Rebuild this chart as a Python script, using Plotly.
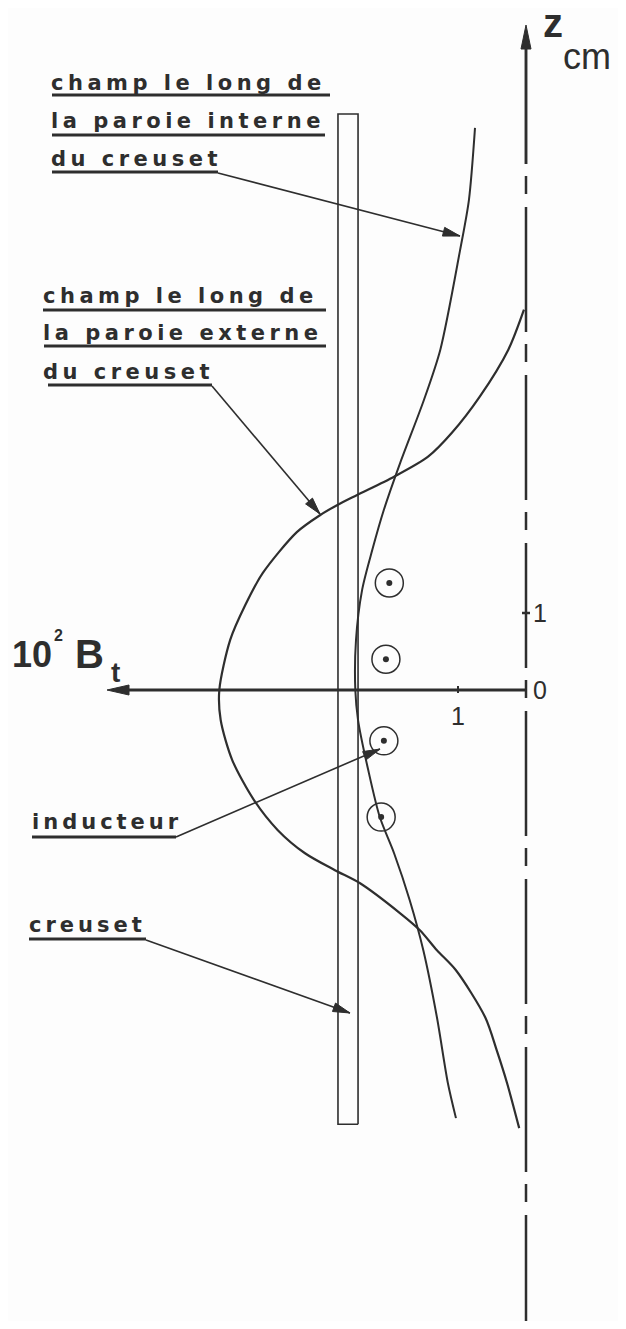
import plotly.graph_objects as go

# field along the inner wall of the crucible (10^2 Bt, z in cm)
z_inner = [7.30, 6.36, 5.71, 4.42, 3.77, 2.95, 2.34, 1.82, 1.30, 0.65, 0.0,
           -0.39, -1.04, -1.65, -2.12, -2.73, -3.38, -4.25, -5.10, -5.56]
b_inner = [0.75, 0.84, 0.97, 1.26, 1.50, 1.85, 2.09, 2.26, 2.41, 2.50, 2.51,
           2.47, 2.32, 2.15, 1.94, 1.71, 1.51, 1.31, 1.15, 1.03]

# field along the outer wall of the crucible
z_outer = [4.94, 4.42, 3.81, 3.34, 3.03, 2.77, 2.53, 2.40, 2.27, 2.05, 1.52, 1.10, 0.65, 0.0,
           -0.39, -0.91, -1.43, -1.82, -2.12, -2.34, -2.51, -2.90, -3.12, -3.38,
           -3.64, -4.25, -4.68, -5.10, -5.69]
b_outer = [0.03, 0.26, 0.68, 1.09, 1.44, 1.94, 2.49, 2.78, 3.03, 3.37, 3.87, 4.13, 4.35, 4.51,
           4.49, 4.32, 4.00, 3.65, 3.25, 2.81, 2.44, 1.85, 1.56, 1.31,
           1.03, 0.60, 0.43, 0.28, 0.10]

# inductor turns
coil_b = [2.01, 2.06, 2.09, 2.13]
coil_z = [1.39, 0.40, -0.66, -1.65]

# crucible wall
crucible_b = [2.47, 2.765]
crucible_z = [-5.64, 7.48]

x_ticks = [1]
x_tick_labels = ["1"]
z_ticks = [1]
z_tick_labels = ["1"]

PAGE_W, PAGE_H = 626, 1329
PAD = 8                 # body margin of the html page
OX, OY = 526, 690       # origin in page pixels
SX, SY = 68, 77         # pixels per unit
INK = "#2e2e2e"


def bx(px):
    return (OX - px) / SX


def zy(py):
    return (OY - py) / SY


def arrow_path(tip, tail, length=16, half=4):
    # filled triangle in data coords, given pixel tip/tail
    tx, ty = tip
    dx, dy = tip[0] - tail[0], tip[1] - tail[1]
    n = (dx * dx + dy * dy) ** 0.5
    ux, uy = dx / n, dy / n
    bxp, byp = tx - ux * length, ty - uy * length
    p1 = (bxp - uy * half, byp + ux * half)
    p2 = (bxp + uy * half, byp - ux * half)
    pts = [(tx, ty), p1, p2]
    return "M " + " L ".join(f"{bx(a)},{zy(b)}" for a, b in pts) + " Z"


fig = go.Figure()

fig.add_trace(go.Scatter(x=b_inner, y=z_inner, mode="lines",
                         line=dict(color=INK, width=2, shape="spline", smoothing=0.8)))
fig.add_trace(go.Scatter(x=b_outer, y=z_outer, mode="lines",
                         line=dict(color=INK, width=2.2, shape="spline", smoothing=0.8)))

# crucible
fig.add_trace(go.Scatter(
    x=[crucible_b[0], crucible_b[0], crucible_b[1], crucible_b[1], crucible_b[0]],
    y=[crucible_z[0], crucible_z[1], crucible_z[1], crucible_z[0], crucible_z[0]],
    mode="lines", line=dict(color=INK, width=1.6)))

# inductor
fig.add_trace(go.Scatter(x=coil_b, y=coil_z, mode="markers",
                         marker=dict(symbol="circle-open", size=28, color=INK,
                                     line=dict(width=1.5, color=INK))))
fig.add_trace(go.Scatter(x=coil_b, y=coil_z, mode="markers",
                         marker=dict(symbol="circle", size=6, color=INK)))

shapes = []
# horizontal axis
shapes.append(dict(type="line", x0=0, x1=bx(122), y0=0, y1=0,
                   line=dict(color=INK, width=3)))
shapes.append(dict(type="path", path=arrow_path((107, 690), (200, 690), 22, 5),
                   fillcolor=INK, line=dict(color=INK, width=1)))
# vertical axis (dash-dot centre line) + arrow
shapes.append(dict(type="line", x0=0, x1=0, y0=zy(39), y1=zy(PAGE_H),
                   line=dict(color=INK, width=2.5, dash="125px,12px,18px,13px")))
shapes.append(dict(type="line", x0=0, x1=0, y0=zy(164), y1=zy(45),
                   line=dict(color=INK, width=2.5)))
shapes.append(dict(type="path", path=arrow_path((OX, 25), (OX, 100), 24, 5),
                   fillcolor=INK, line=dict(color=INK, width=1)))
# tick marks
for t in x_ticks:
    shapes.append(dict(type="line", x0=t, x1=t, y0=zy(OY - 4), y1=zy(OY + 3),
                       line=dict(color=INK, width=2)))
for t in z_ticks:
    shapes.append(dict(type="line", x0=bx(OX - 4), x1=bx(OX + 4), y0=t, y1=t,
                       line=dict(color=INK, width=2.5)))

# underlines under labels
underlines = [(52, 330, 95), (52, 325, 135), (52, 218, 172),
              (43, 326, 310), (44, 326, 346), (48, 212, 385),
              (32, 176, 837), (29, 146, 939)]
for x0, x1, y in underlines:
    shapes.append(dict(type="line", x0=bx(x0), x1=bx(x1), y0=zy(y), y1=zy(y),
                       line=dict(color=INK, width=3)))

# leader lines with arrows
leaders = [((218, 173), (460, 236)), ((212, 386), (320, 514)),
           ((176, 837), (380, 749)), ((146, 940), (350, 1013))]
for (ax, ay), (tx, ty) in leaders:
    shapes.append(dict(type="line", x0=bx(ax), x1=bx(tx), y0=zy(ay), y1=zy(ty),
                       line=dict(color=INK, width=1.6)))
    shapes.append(dict(type="path", path=arrow_path((tx, ty), (ax, ay), 17, 4.5),
                       fillcolor=INK, line=dict(color=INK, width=1)))

annotations = []
label_font = dict(family="DejaVu Sans", size=21, color=INK, weight="bold")


def label(text, px, py, spacing=4.5):
    annotations.append(dict(
        x=bx(px), y=zy(py), xref="x", yref="y", xanchor="left", yanchor="bottom",
        text=f'<span style="letter-spacing:{spacing}px">{text}</span>',
        showarrow=False, font=label_font, borderpad=0))


label("champ le long de", 50, 96)
label("la paroie interne", 50, 134)
label("du creuset", 50, 172)
label("champ le long de", 42, 309)
label("la paroie externe", 42, 346)
label("du creuset", 42, 385)
label("inducteur", 31, 835, 4)
label("creuset", 28, 938, 4)


def title(text, px, py, size, anchor="bottom"):
    annotations.append(dict(x=bx(px), y=zy(py), xref="x", yref="y", xanchor="left",
                            yanchor=anchor, text=text, showarrow=False,
                            font=dict(family="Liberation Sans", size=size, color=INK)))


# axis titles
title("<b>z</b>", 541, 47, 40)
title("cm", 561, 79, 36)
title("<b>10</b>", 10, 677, 36)
title("<b>2</b>", 52, 646, 16)
title("<b>B</b>", 73, 678, 40)
title("<b>t</b>", 109, 690, 28)

# tick labels
tick_font = dict(family="Liberation Sans", size=25, color=INK)
for t, lab in zip(x_ticks, x_tick_labels):
    annotations.append(dict(x=t, y=zy(OY + 10), xref="x", yref="y", xanchor="center",
                            yanchor="top", text=lab, showarrow=False, font=tick_font))
for t, lab in zip(z_ticks, z_tick_labels):
    annotations.append(dict(x=bx(OX + 5), y=t, xref="x", yref="y", xanchor="left",
                            yanchor="middle", text=lab, showarrow=False, font=tick_font))
annotations.append(dict(x=bx(OX + 5), y=0, xref="x", yref="y", xanchor="left",
                        yanchor="middle", text="0", showarrow=False, font=tick_font))

fig_w, fig_h = PAGE_W - 2 * PAD, PAGE_H - 2 * PAD
fig.update_layout(
    width=fig_w, height=fig_h, autosize=False,
    margin=dict(l=0, r=0, t=0, b=0),
    paper_bgcolor="#fdfdfd", plot_bgcolor="#fdfdfd",
    showlegend=False,
    xaxis=dict(range=[bx(PAD), bx(PAD + fig_w)], visible=False, fixedrange=True),
    yaxis=dict(range=[zy(PAD + fig_h), zy(PAD)], visible=False, fixedrange=True),
    shapes=shapes, annotations=annotations,
)

fig.write_html("out.html")
